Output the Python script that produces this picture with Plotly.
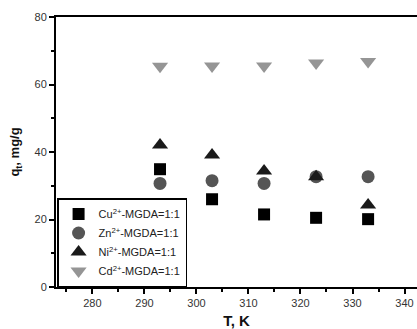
import plotly.graph_objects as go

T = [293, 303, 313, 323, 333]
cu = [34.9, 26.0, 21.5, 20.5, 20.1]
zn = [30.7, 31.5, 30.7, 32.7, 32.7]
ni = [42.1, 39.1, 34.4, 32.7, 24.3]
cd = [65.4, 65.5, 65.5, 66.4, 66.8]

names = ["Cu<sup>2+</sup>-MGDA=1:1", "Zn<sup>2+</sup>-MGDA=1:1",
         "Ni<sup>2+</sup>-MGDA=1:1", "Cd<sup>2+</sup>-MGDA=1:1"]

fig = go.Figure()
fig.add_trace(go.Scatter(x=T, y=cu, mode="markers", name=names[0],
                         marker=dict(symbol="square", size=12, color="#000000")))
fig.add_trace(go.Scatter(x=T, y=zn, mode="markers", name=names[1],
                         marker=dict(symbol="circle", size=13, color="#555555")))
fig.add_trace(go.Scatter(x=T, y=ni, mode="markers", name=names[2],
                         marker=dict(symbol="triangle-up", size=14, color="#1a1a1a")))
fig.add_trace(go.Scatter(x=T, y=cd, mode="markers", name=names[3],
                         marker=dict(symbol="triangle-down", size=14, color="#959595")))

fig.update_layout(
    width=417, height=329,
    margin=dict(l=56, r=0, t=17, b=42),
    plot_bgcolor="white", paper_bgcolor="white",
    font=dict(family="Liberation Sans, Arial, sans-serif", size=11, color="#333333"),
    showlegend=True,
    legend=dict(x=0.003, y=0.0, xanchor="left", yanchor="bottom",
                bordercolor="#000000", borderwidth=1.5, bgcolor="white",
                font=dict(size=11, color="#222222"),
                tracegroupgap=0),
    xaxis=dict(range=[273.0, 342.4], showline=True, linecolor="#000000", linewidth=2,
               mirror=True, ticks="outside", ticklen=5, tickwidth=1.5, tickcolor="#000000",
               dtick=10, tick0=280, showgrid=False, zeroline=False,
               minor=dict(ticks="outside", ticklen=3, tickwidth=1.5, dtick=5, tickcolor="#000000"),
               title=dict(text="<b>T, K</b>", font=dict(size=15, color="#111111"), standoff=8)),
    yaxis=dict(range=[0, 80], showline=True, linecolor="#000000", linewidth=2,
               ticks="outside", ticklen=5, tickwidth=1.5, tickcolor="#000000",
               dtick=20, showgrid=False, zeroline=False,
               minor=dict(ticks="outside", ticklen=3, tickwidth=1.5, dtick=10, tickcolor="#000000"),
               title=dict(text="<b>q<sub>t</sub>, mg/g</b>", font=dict(size=13, color="#111111"), standoff=12)),
)

fig.write_html("out.html", config={"displayModeBar": False},
               post_script="document.body.style.margin='0';document.body.style.overflow='hidden';")
